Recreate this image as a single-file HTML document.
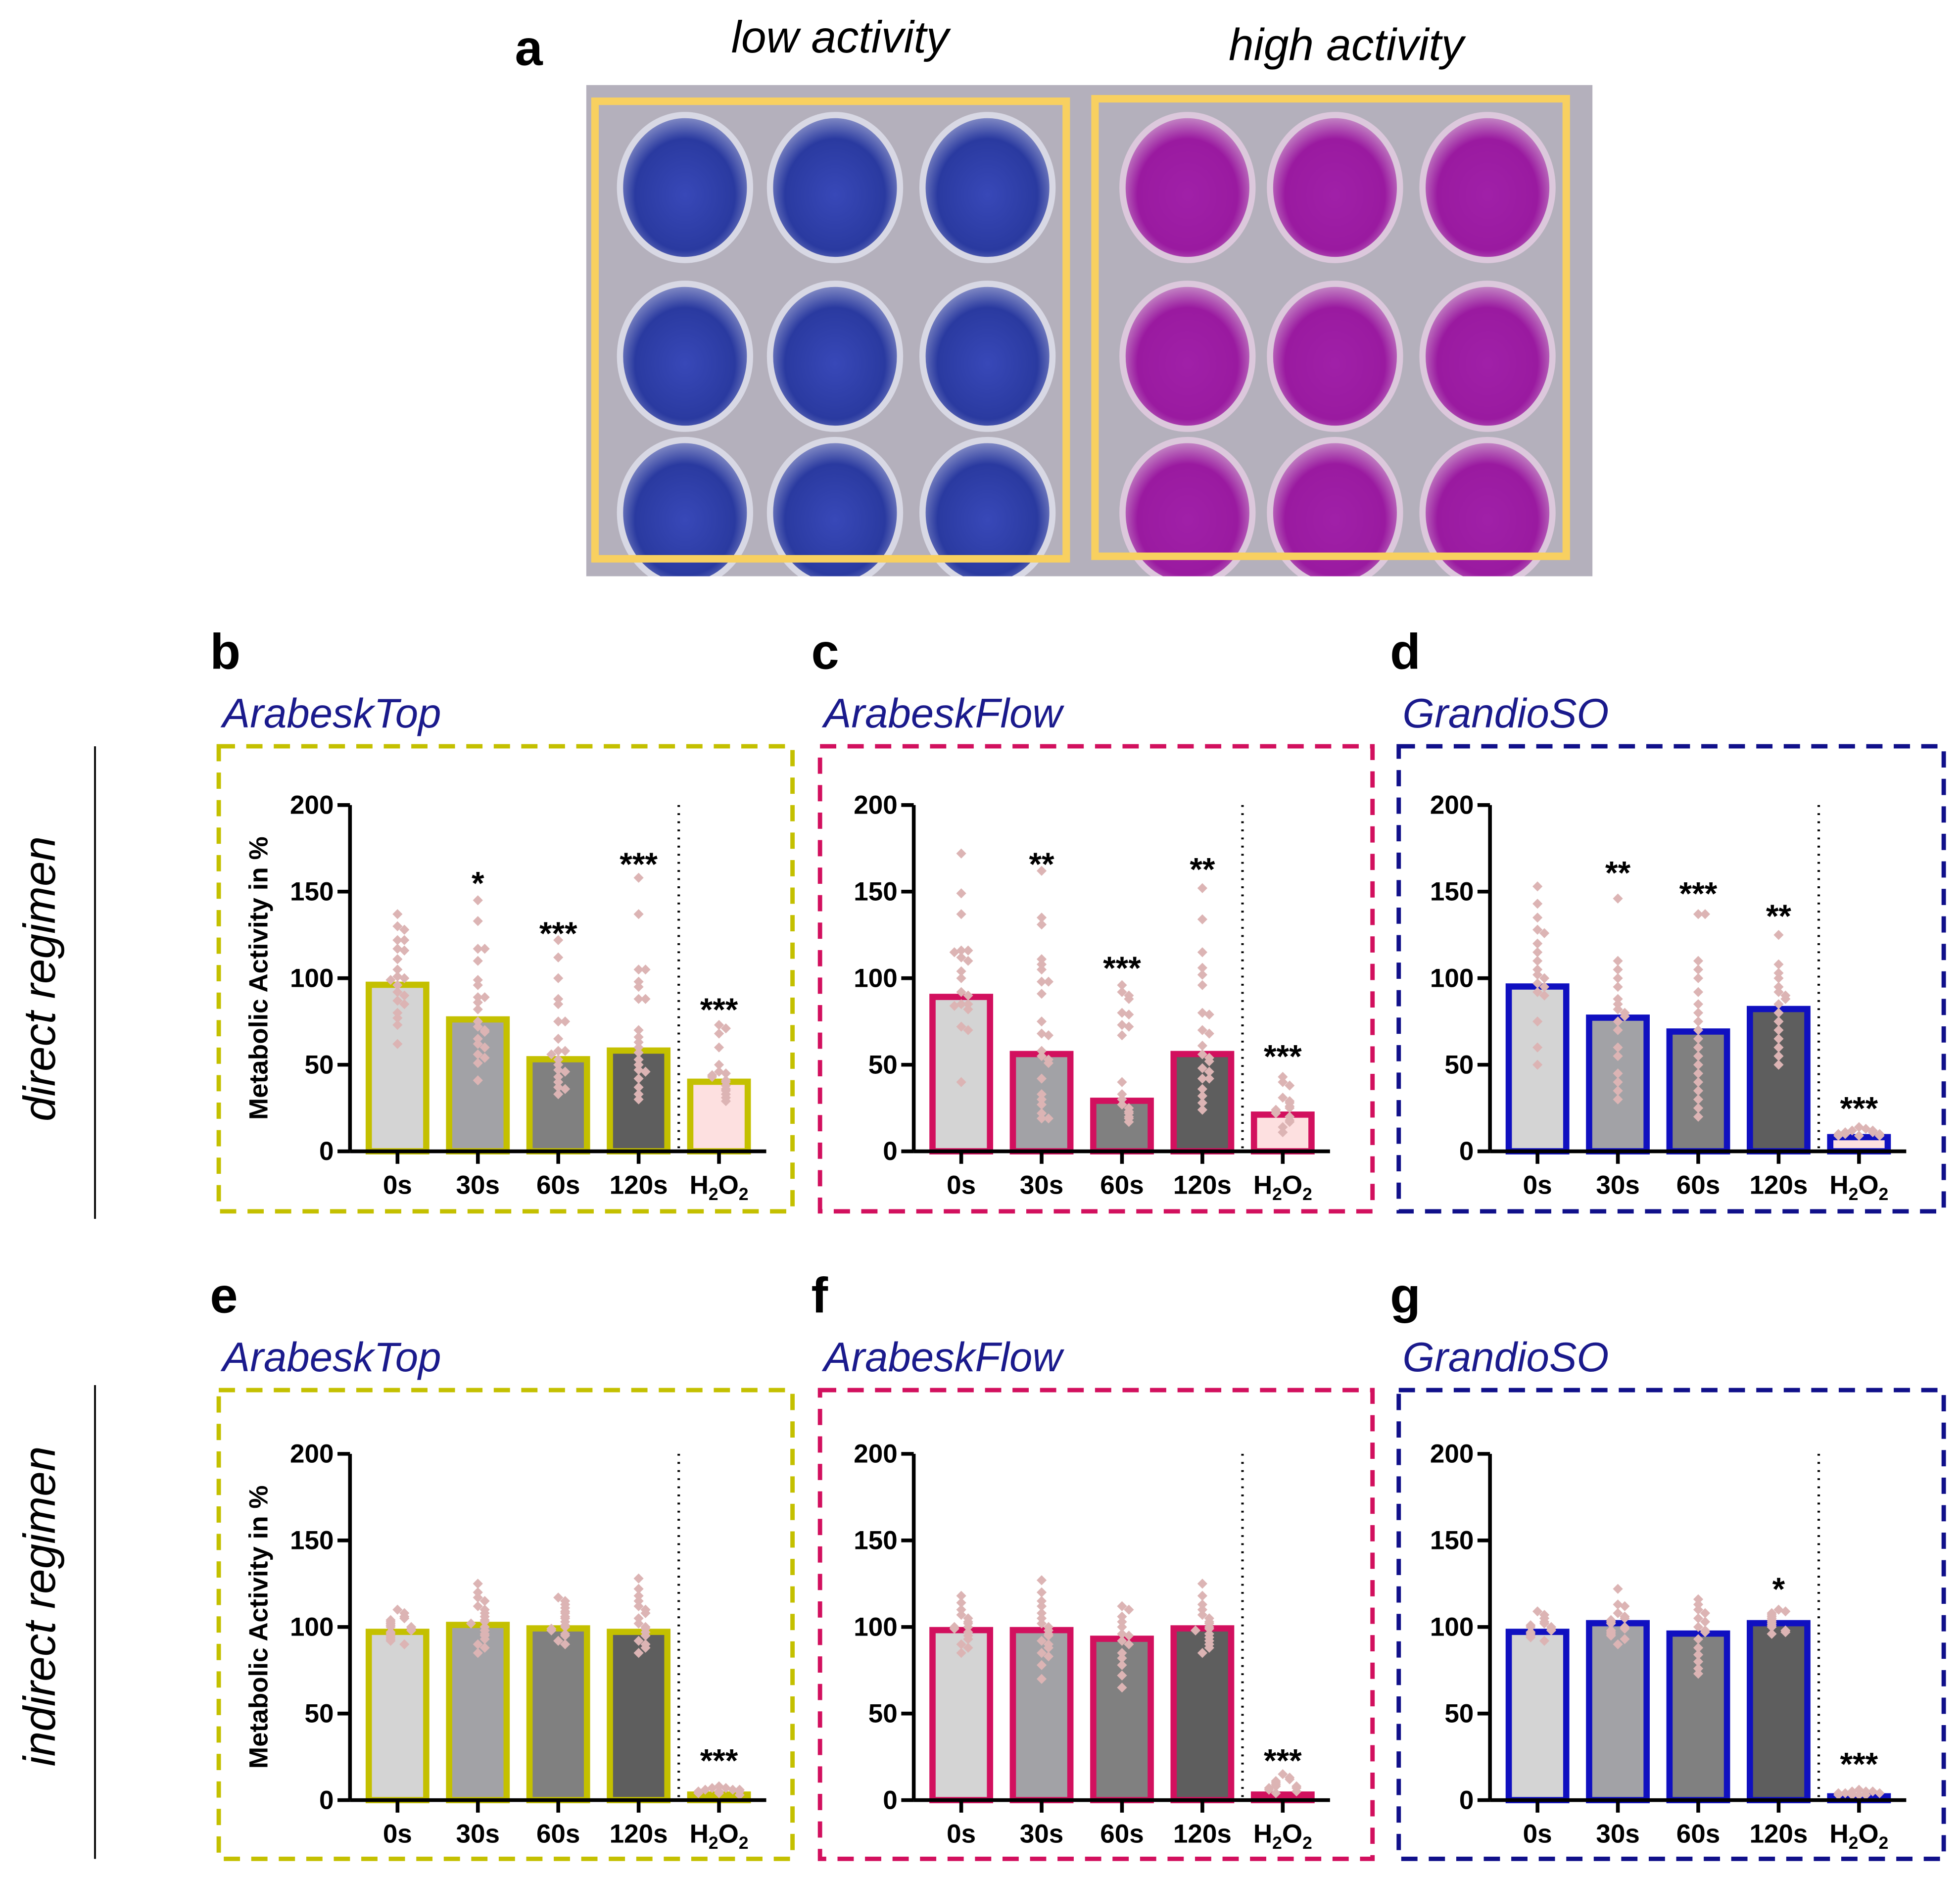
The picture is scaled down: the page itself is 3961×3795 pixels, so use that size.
<!DOCTYPE html>
<html><head><meta charset="utf-8">
<style>
html,body{margin:0;padding:0;background:#fff;}
svg{display:block;}
text{font-family:"Liberation Sans Narrow","Liberation Sans",sans-serif;}
</style></head>
<body>
<svg id="fig" xmlns="http://www.w3.org/2000/svg" width="3961" height="3795" viewBox="0 0 1568 1502.3">
<defs>
<radialGradient id="gBlue" cx="50%" cy="55%" r="55%"><stop offset="0" stop-color="#3848b8"/><stop offset="0.7" stop-color="#2a3aa0"/><stop offset="1" stop-color="#8a92c8"/></radialGradient>
<radialGradient id="gPink" cx="50%" cy="55%" r="55%"><stop offset="0" stop-color="#a020a8"/><stop offset="0.7" stop-color="#9a1aa0"/><stop offset="1" stop-color="#c890c8"/></radialGradient>
<clipPath id="photoClip"><rect x="469" y="68" width="805" height="393"/></clipPath>
</defs>
<g id="photo" clip-path="url(#photoClip)">
<rect x="469" y="68" width="805" height="393" fill="#b4b0bc"/>
</g>
<text x="423" y="52" font-size="40" font-weight="bold" text-anchor="middle">a</text>
<text x="672" y="42" font-size="36" font-style="italic" text-anchor="middle">low activity</text>
<text x="1077" y="48" font-size="36" font-style="italic" text-anchor="middle">high activity</text>
<g id="charts"></g>
<line x1="76" y1="597" x2="76" y2="975" stroke="#000" stroke-width="1.5"/>
<line x1="76" y1="1108" x2="76" y2="1487" stroke="#000" stroke-width="1.5"/>
<text transform="translate(44,783) rotate(-90)" font-size="36" font-style="italic" text-anchor="middle">direct regimen</text>
<text transform="translate(44,1285) rotate(-90)" font-size="36" font-style="italic" text-anchor="middle">indirect regimen</text>
</svg>
<script>
const NS="http://www.w3.org/2000/svg";
function mk(tag,attrs,parent){const e=document.createElementNS(NS,tag);for(const k in attrs)e.setAttribute(k,attrs[k]);if(parent)parent.appendChild(e);return e;}

const photo=document.getElementById('photo');
const wellXsL=[548,668,790], wellXsR=[950,1068,1190], wellYs=[150,285,410];
wellYs.forEach(y=>{
  wellXsL.forEach(x=>{const w=mk('ellipse',{cx:x,cy:y,rx:52,ry:58,fill:'url(#gBlue)',stroke:'#d8d8e4','stroke-width':5},photo);});
  wellXsR.forEach(x=>{const w=mk('ellipse',{cx:x,cy:y,rx:52,ry:58,fill:'url(#gPink)',stroke:'#dcc8dc','stroke-width':5},photo);});
});
let b1=mk('rect',{x:476,y:81,width:377,height:366,fill:'none',stroke:'#f8d060','stroke-width':6},photo);

let b2=mk('rect',{x:876,y:79,width:377,height:366,fill:'none',stroke:'#f8d060','stroke-width':6},photo);


// ---- data ----
const categories=["0s","30s","60s","120s","H2O2"];
const yTicks=[0,50,100,150,200];
const barsB=[98,78,55,60,42];
const barsC=[91,58,31,58,23];
const barsD=[97,79,71,84,10];
const barsE=[99,103,101,99,5];
const barsF=[100,100,95,101,5];
const barsG=[99,104,98,104,4];
const starsB=["","*","***","***","***"];
const starsC=["","**","***","**","***"];
const starsD=["","**","***","**","***"];
const starsE=["","","","","***"];
const starsF=["","","","","***"];
const starsG=["","","","*","***"];
const starPosB=[0,157,128,168,84];
const starPosC=[0,168,108,165,57];
const starPosD=[0,163,151,138,27];
const starPosE=[0,0,0,0,25];
const starPosF=[0,0,0,0,25];
const starPosG=[0,0,0,124,23];
const ptsB=[[137,130,128,122,122,117,116,111,105,101,100,99,96,92,90,87,85,80,77,73,62],[145,133,117,117,110,99,96,89,89,86,82,75,72,70,69,65,62,60,56,54,51,41],[122,112,100,88,85,75,75,65,58,58,56,53,50,47,46,43,40,37,36,33],[158,137,105,105,98,95,88,88,70,66,63,60,57,53,50,47,46,42,37,33,30],[73,71,68,60,50,46,45,44,43,41,40,38,36,35,33,31,29]];
const ptsC=[[172,149,137,116,116,115,112,110,104,100,92,90,85,85,84,82,72,70,40],[162,135,131,111,108,105,98,98,91,75,68,67,58,55,53,51,42,33,30,27,22,19,19],[96,92,90,88,80,79,73,72,67,40,33,30,27,25,23,22,20,19,17],[152,134,115,106,102,96,80,79,70,68,61,56,54,52,48,46,42,42,36,32,28,24],[43,40,38,31,29,28,26,25,24,23,22,20,18,17,14,11]];
const ptsD=[[153,143,135,128,126,120,115,110,105,102,100,97,95,92,90,75,60,50],[146,110,105,100,95,88,85,82,80,78,75,70,60,55,45,40,35,30],[137,137,110,105,100,92,85,80,75,70,65,60,55,50,45,40,35,30,25,20],[125,108,103,100,95,92,90,88,85,80,75,70,65,60,55,50],[14,13,12,12,11,11,10,10,10,9,9,9]];
const ptsE=[[110,108,106,105,104,103,102,101,100,100,99,98,97,96,95,94,93,92,90],[125,120,117,115,112,110,108,106,104,103,102,100,98,96,95,93,90,88,85],[117,115,113,111,109,108,106,105,103,101,100,99,98,96,95,92,90],[128,122,118,115,112,110,108,105,102,100,99,97,95,92,90,88,85],[8,7,7,6,6,6,5,5,5,4,4,3]];
const ptsF=[[118,114,110,107,105,103,102,100,100,99,97,95,93,90,88,85],[127,120,115,112,108,105,102,100,98,96,95,92,90,88,85,83,78,70],[112,110,106,103,100,96,95,92,90,85,82,78,72,65],[125,118,113,110,107,105,103,102,100,99,98,96,94,92,90,88,85],[15,13,12,11,10,9,8,8,7,7,6,5,4]];
const ptsG=[[109,107,105,103,102,101,100,100,99,98,97,96,95,94,92],[122,113,112,108,106,105,104,103,102,100,99,98,97,96,95,93,90],[116,113,110,108,105,103,100,98,97,93,88,84,80,76,73],[110,109,108,107,106,105,104,103,102,101,100,98,97,96],[6,5,5,5,4,4,4,3,3,3,3]];

const fills=["#d4d4d4","#a2a2a6","#808080","#5e5e5e","#fde0e0"];
const panels=[
 {id:'b',title:'ArabeskTop',col:'#c4c000',bars:barsB,stars:starsB,sp:starPosB,pts:ptsB,ax:280,y0:921,box:[175,597,634,969],ylab:true},
 {id:'c',title:'ArabeskFlow',col:'#d2105e',bars:barsC,stars:starsC,sp:starPosC,pts:ptsC,ax:731,y0:921,box:[656,597,1098,969],ylab:false},
 {id:'d',title:'GrandioSO',col:'#1010c0',boxcol:'#10108a',bars:barsD,stars:starsD,sp:starPosD,pts:ptsD,ax:1192,y0:921,box:[1119,597,1555,969],ylab:false},
 {id:'e',title:'ArabeskTop',col:'#c4c000',bars:barsE,stars:starsE,sp:starPosE,pts:ptsE,ax:280,y0:1440,box:[175,1112,634,1487],ylab:true},
 {id:'f',title:'ArabeskFlow',col:'#d2105e',bars:barsF,stars:starsF,sp:starPosF,pts:ptsF,ax:731,y0:1440,box:[656,1112,1098,1487],ylab:false},
 {id:'g',title:'GrandioSO',col:'#1010c0',boxcol:'#10108a',bars:barsG,stars:starsG,sp:starPosG,pts:ptsG,ax:1192,y0:1440,box:[1119,1112,1555,1487],ylab:false}
];
const root=document.getElementById('charts');
panels.forEach(p=>{
  const g=mk('g',{},root);
  
  
  const yS=v=>p.y0-v*277/200;
  const xS=i=>p.ax+38+i*64.3;
  const bx=p.box;
  const lt=mk('text',{x:bx[0]-7,y:bx[1]-62,'font-size':40,'font-weight':'bold','font-family':'Liberation Sans, sans-serif'},g);lt.textContent=p.id;
  
  const tt=mk('text',{x:bx[0]+3,y:bx[1]-15,'font-size':33,'font-style':'italic',fill:'#1a1a8c'},g);tt.textContent=p.title;
  
  const rb=mk('rect',{x:bx[0],y:bx[1],width:bx[2]-bx[0],height:bx[3]-bx[1],fill:'none',stroke:p.boxcol||p.col,'stroke-width':3.5,'stroke-dasharray':'13 9'},g);
  
  p.bars.forEach((v,i)=>{
    const r=mk('rect',{x:xS(i)-23,y:yS(v)+2.5,width:46,height:Math.max(0,p.y0-yS(v)-2.5),fill:fills[i],stroke:p.col,'stroke-width':5},g);
    
    
  });
  p.pts.forEach((arr,i)=>{
    const placed=[];
    arr.forEach(v=>{
      let n=placed.filter(u=>Math.abs(u-v)<3).length;
      placed.push(v);
      n=n%7;
      const off=(n===0?0:(n%2?1:-1)*Math.ceil(n/2)*5.5);
      const cx=xS(i)+off, cy=yS(v);
      const d=mk('path',{d:`M${cx} ${cy-4}L${cx+4} ${cy}L${cx} ${cy+4}L${cx-4} ${cy}Z`,fill:'#dcb4b4'},g);
      
      
    });
  });
  p.stars.forEach((s,i)=>{
    if(!s)return;
    const t=mk('text',{x:xS(i),y:yS(p.sp[i])+12,'font-size':26,'font-weight':'bold','text-anchor':'middle','font-family':'Liberation Sans, sans-serif'},g);
    t.textContent=s;
    
    
  });
  const dl=mk('line',{x1:p.ax+263,y1:yS(200),x2:p.ax+263,y2:p.y0,stroke:'#000','stroke-width':2,'stroke-dasharray':'1.5 5'},g);
  
  const ya=mk('line',{x1:p.ax,y1:yS(200),x2:p.ax,y2:p.y0,stroke:'#000','stroke-width':3},g);
  
  const xa=mk('line',{x1:p.ax,y1:p.y0,x2:p.ax+333,y2:p.y0,stroke:'#000','stroke-width':3},g);
  
  yTicks.forEach(v=>{
    mk('line',{x1:p.ax-10,y1:yS(v),x2:p.ax,y2:yS(v),stroke:'#000','stroke-width':3},g);
    const t=mk('text',{x:p.ax-13,y:yS(v)+7,'font-size':21,'font-weight':'bold','text-anchor':'end'},g);
    t.textContent=v;
    
    
  });
  categories.forEach((c,i)=>{
    mk('line',{x1:xS(i),y1:p.y0,x2:xS(i),y2:p.y0+10,stroke:'#000','stroke-width':3},g);
    const t=mk('text',{x:xS(i),y:p.y0+34,'font-size':21,'font-weight':'bold','text-anchor':'middle'},g);
    if(c==='H2O2'){
      t.innerHTML='H<tspan font-size="14" dy="5">2</tspan><tspan dy="-5">O</tspan><tspan font-size="14" dy="5">2</tspan>';
    } else t.textContent=c;
    
    
  });
  if(p.ylab){
    const t=mk('text',{transform:`translate(${p.ax-66},${yS(100)}) rotate(-90)`,'font-size':21,'font-weight':'bold','text-anchor':'middle','font-family':'Liberation Sans, sans-serif'},g);
    t.textContent='Metabolic Activity in %';
    
    
  }
});
</script>
</body></html>
